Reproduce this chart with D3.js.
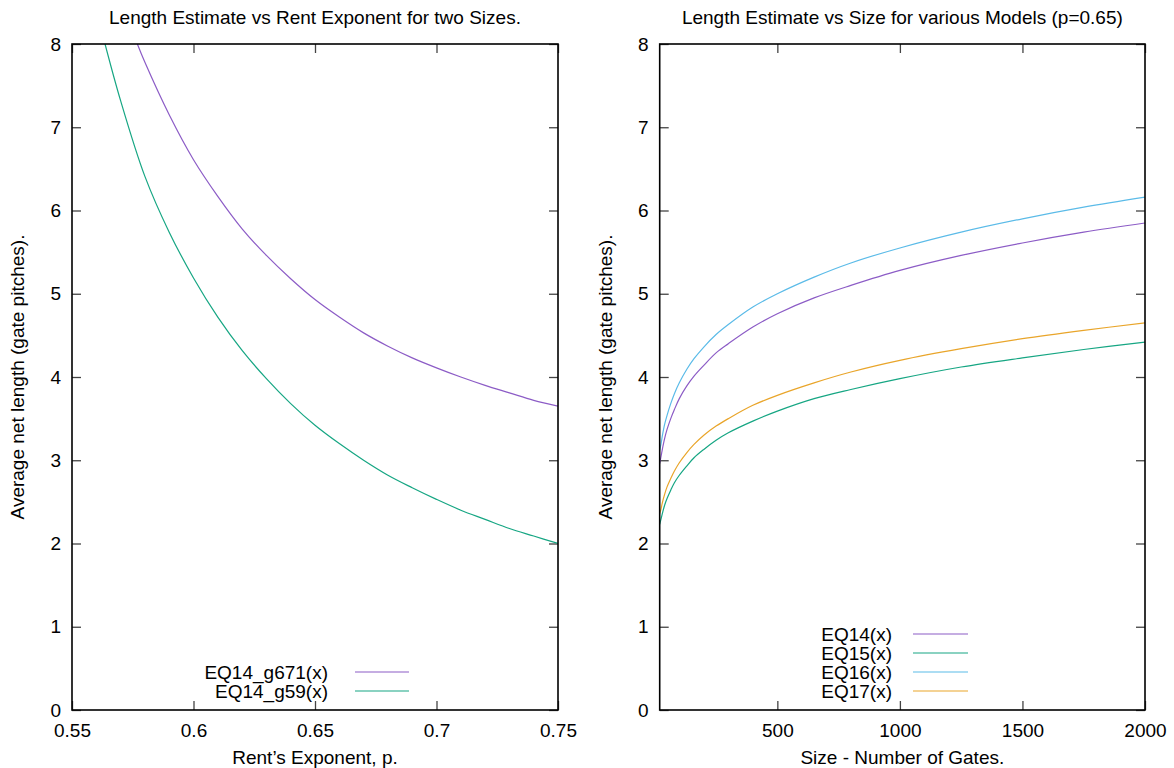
<!DOCTYPE html>
<html><head><meta charset="utf-8">
<script src="https://cdn.jsdelivr.net/npm/d3@7"></script>
<style>
body{margin:0;background:#fff}
svg text{font-family:"Liberation Sans",Arial,Helvetica,sans-serif;font-size:19px;fill:#000}
</style></head><body>
<svg id="c" width="1174" height="768"></svg>
<script>
// ---- Left panel data: length vs Rent exponent ----
const rentP_g671 = [0.5769,0.58,0.59,0.60,0.61,0.62,0.63,0.64,0.65,0.66,0.67,0.68,0.69,0.70,0.71,0.72,0.73,0.74,0.75];
const len_g671   = [8.00,7.78,7.15,6.61,6.17,5.78,5.46,5.18,4.93,4.72,4.53,4.37,4.23,4.11,4.00,3.90,3.81,3.72,3.65];
const rentP_g59  = [0.5636,0.57,0.58,0.59,0.60,0.61,0.62,0.63,0.64,0.65,0.66,0.67,0.68,0.69,0.70,0.71,0.72,0.73,0.74,0.75];
const len_g59    = [8.00,7.32,6.41,5.74,5.19,4.72,4.32,3.98,3.68,3.42,3.20,3.00,2.82,2.67,2.53,2.40,2.29,2.18,2.09,2.00];

// ---- Right panel data: length vs size ----
const gateSizes = [20,25,30,40,50,65,80,100,130,160,200,250,300,400,500,650,800,1000,1250,1500,1750,2000];
const eq14 = [2.96,3.04,3.12,3.26,3.37,3.50,3.61,3.74,3.89,4.01,4.14,4.29,4.40,4.60,4.76,4.95,5.10,5.28,5.46,5.61,5.74,5.85];
const eq15 = [2.23,2.29,2.35,2.46,2.54,2.64,2.73,2.82,2.93,3.03,3.13,3.24,3.33,3.47,3.59,3.74,3.85,3.98,4.12,4.23,4.33,4.42];
const eq16 = [3.12,3.19,3.28,3.43,3.54,3.68,3.80,3.93,4.09,4.22,4.36,4.51,4.63,4.84,5.00,5.20,5.37,5.55,5.74,5.90,6.04,6.16];
const eq17 = [2.36,2.41,2.48,2.59,2.68,2.78,2.87,2.97,3.09,3.19,3.30,3.41,3.50,3.66,3.78,3.93,4.06,4.20,4.34,4.46,4.56,4.65];

// ---- ticks / labels ----
const yTicks = [0,1,2,3,4,5,6,7,8];
const leftXTicks = [0.55,0.6,0.65,0.7,0.75];
const rightXTicks = [500,1000,1500,2000];
const leftNames = ["EQ14_g671(x)","EQ14_g59(x)"];
const rightNames = ["EQ14(x)","EQ15(x)","EQ16(x)","EQ17(x)"];
const colors = ["#8c5cc6","#16a683","#5bbbe8","#e9a52a"];
const titles = ["Length Estimate vs Rent Exponent for two Sizes.","Length Estimate vs Size for various Models (p=0.65)"];
const xTitles = ["Rent\u2019s Exponent, p.","Size - Number of Gates."];
const yTitle = "Average net length (gate pitches).";

const svg = d3.select("#c");
const plotTop = 44, plotBottom = 710;

function panel(idx, xDomain, xRange, xTicks, series, names, legendTextX, legendLineX, legendRowsY) {
  const x = d3.scaleLinear().domain(xDomain).range(xRange);
  const y = d3.scaleLinear().domain([0,8]).range([plotBottom, plotTop]);
  const g = svg.append("g");
  const tickLen = 9;
  const fmt = d => String(+(+d).toFixed(2));

  const ax = g.append("g").attr("transform",`translate(0,${plotBottom})`)
    .call(d3.axisBottom(x).tickValues(xTicks).tickSizeInner(-tickLen).tickSizeOuter(0).tickPadding(14).tickFormat(fmt));
  const axT = g.append("g").attr("transform",`translate(0,${plotTop})`)
    .call(d3.axisTop(x).tickValues(xTicks).tickSizeInner(-tickLen).tickSizeOuter(0).tickFormat(""));
  const ay = g.append("g").attr("transform",`translate(${xRange[0]},0)`)
    .call(d3.axisLeft(y).tickValues(yTicks).tickSizeInner(-tickLen).tickSizeOuter(0).tickPadding(11).tickFormat(d3.format("d")));
  const ayR = g.append("g").attr("transform",`translate(${xRange[1]},0)`)
    .call(d3.axisRight(y).tickValues(yTicks).tickSizeInner(-tickLen).tickSizeOuter(0).tickFormat(""));
  [ax,axT,ay,ayR].forEach(a => {
    a.select(".domain").remove();
    a.selectAll("line").attr("stroke","#444").attr("stroke-width",1.3);
    a.selectAll("text").attr("font-size",19).attr("font-family",null).style("fill","#000");
  });

  const cid = "clip"+idx;
  g.append("clipPath").attr("id",cid).append("rect")
    .attr("x",xRange[0]).attr("y",plotTop).attr("width",xRange[1]-xRange[0]).attr("height",plotBottom-plotTop);

  const line = d3.line().x(d=>x(d[0])).y(d=>y(d[1])).curve(d3.curveCatmullRom.alpha(0.5));
  series.forEach((s,i) => {
    g.append("path").attr("clip-path",`url(#${cid})`)
      .attr("d", line(d3.zip(s.xs, s.ys)))
      .attr("fill","none").attr("stroke",colors[i]).attr("stroke-width",1.2);
  });

  names.forEach((n,i) => {
    g.append("text").attr("x",legendTextX).attr("y",legendRowsY[i]).attr("dy","0.35em")
      .attr("text-anchor","end").text(n);
    g.append("line").attr("x1",legendLineX[0]).attr("x2",legendLineX[1])
      .attr("y1",legendRowsY[i]).attr("y2",legendRowsY[i])
      .attr("stroke",colors[i]).attr("stroke-width",1.2);
  });

  g.append("rect").attr("x",xRange[0]).attr("y",plotTop)
    .attr("width",xRange[1]-xRange[0]).attr("height",plotBottom-plotTop)
    .attr("fill","none").attr("stroke","#000").attr("stroke-width",1.6);

  const cx = (xRange[0]+xRange[1])/2;
  g.append("text").attr("x",cx).attr("y",24).attr("text-anchor","middle").text(titles[idx]);
  g.append("text").attr("x",cx).attr("y",764).attr("text-anchor","middle").text(xTitles[idx]);
  g.append("text").attr("transform",`translate(${xRange[0]-48},${(plotTop+plotBottom)/2}) rotate(-90)`)
    .attr("text-anchor","middle").text(yTitle);
}

panel(0, [0.55,0.75], [72,558], leftXTicks,
  [{xs:rentP_g671, ys:len_g671},{xs:rentP_g59, ys:len_g59}],
  leftNames, 328, [355,409], [672,691]);

panel(1, [20,2000], [659.7,1145], rightXTicks,
  [{xs:gateSizes, ys:eq14},{xs:gateSizes, ys:eq15},{xs:gateSizes, ys:eq16},{xs:gateSizes, ys:eq17}],
  rightNames, 892, [913,968], [634,653,672,691]);
</script>
</body></html>
